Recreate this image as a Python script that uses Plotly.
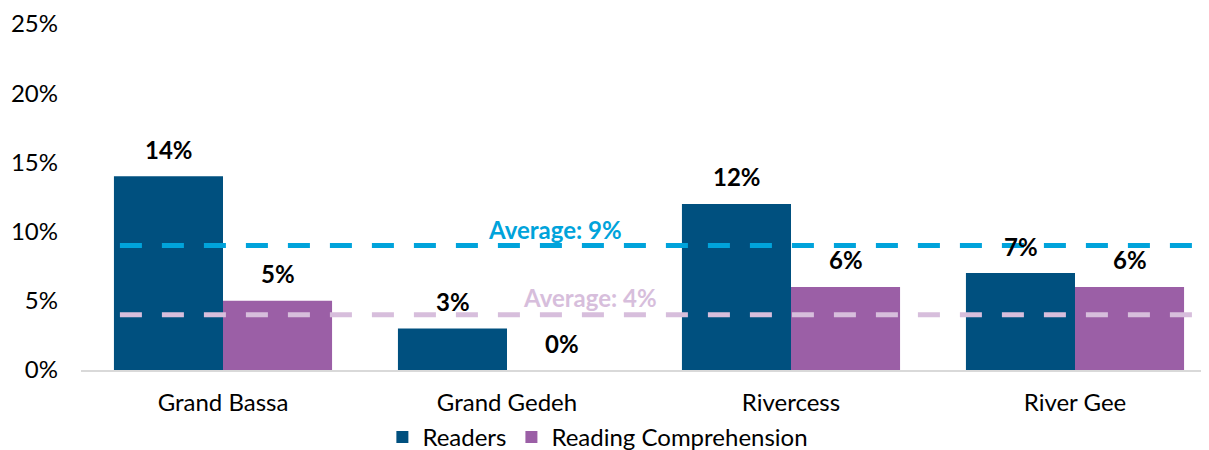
import plotly.graph_objects as go

categories = ["Grand Bassa", "Grand Gedeh", "Rivercess", "River Gee"]
readers = [14, 3, 12, 7]
comprehension = [5, 0, 6, 6]
avg_readers = 9
avg_comprehension = 4
y_ticks = [0, 5, 10, 15, 20, 25]
y_tick_labels = ["0%", "5%", "10%", "15%", "20%", "25%"]

C_READ = "#00507F"
C_COMP = "#9B5FA6"
C_AVG1 = "#00A3DB"
C_AVG2 = "#D7BEDC"
FONT = "Lato, 'Liberation Sans', sans-serif"
FS = 24

fig = go.Figure()
fig.add_trace(go.Bar(x=categories, y=readers, name="Readers", marker_color=C_READ,
                     marker_line_width=0))
fig.add_trace(go.Bar(x=categories, y=comprehension, name="Reading Comprehension",
                     marker_color=C_COMP, marker_line_width=0))

# bar value labels
bar_shift = 54.5
for cat, v in zip(categories, readers):
    fig.add_annotation(x=cat, y=v, text=f"<b>{v}%</b>", showarrow=False, xshift=-bar_shift,
                       yshift=27, font=dict(size=FS, color="#000000", family=FONT))
for cat, v in zip(categories, comprehension):
    fig.add_annotation(x=cat, y=v, text=f"<b>{v}%</b>", showarrow=False, xshift=bar_shift,
                       yshift=27, font=dict(size=FS, color="#000000", family=FONT))

# average lines
x0, x1 = -0.363, 3.42
fig.add_shape(type="line", xref="x", yref="y", x0=x0, x1=x1, y0=avg_readers, y1=avg_readers,
              line=dict(color=C_AVG1, width=5, dash="22px,20px"))
fig.add_shape(type="line", xref="x", yref="y", x0=x0, x1=x1, y0=avg_comprehension,
              y1=avg_comprehension, line=dict(color=C_AVG2, width=5, dash="22px,20px"))
fig.add_annotation(x=1.169, y=avg_readers, text=f"<b>Average: {avg_readers}%</b>", showarrow=False,
                   yshift=16, font=dict(size=FS, color=C_AVG1, family=FONT))
fig.add_annotation(x=1.292, y=avg_comprehension, text=f"<b>Average: {avg_comprehension}%</b>",
                   showarrow=False, yshift=17, font=dict(size=FS, color=C_AVG2, family=FONT))

fig.update_layout(
    width=1209, height=450,
    margin=dict(l=73, r=0, t=16, b=88, autoexpand=False),
    paper_bgcolor="white", plot_bgcolor="white",
    barmode="group", bargap=0.232, bargroupgap=0,
    font=dict(family=FONT, size=FS, color="#000000"),
    showlegend=True,
    legend=dict(orientation="h", x=0.455, xanchor="center", y=-0.195, yanchor="middle",
                font=dict(size=FS, family=FONT, color="#000000"), itemwidth=30,
                bgcolor="rgba(0,0,0,0)", tracegroupgap=0),
)
fig.update_xaxes(range=[-0.5, 3.5], showline=True, linecolor="#D9D9D9", linewidth=2,
                 ticks="", showgrid=False, automargin=False, ticklabelstandoff=10,
                 tickfont=dict(size=FS, color="#000000"))
fig.update_yaxes(range=[0, 25], tickvals=y_ticks, ticktext=y_tick_labels, showgrid=False,
                 zeroline=False, showline=False, ticks="", ticklabelstandoff=22, automargin=False,
                 tickfont=dict(size=FS, color="#000000"))

fig.write_html("out.html")
